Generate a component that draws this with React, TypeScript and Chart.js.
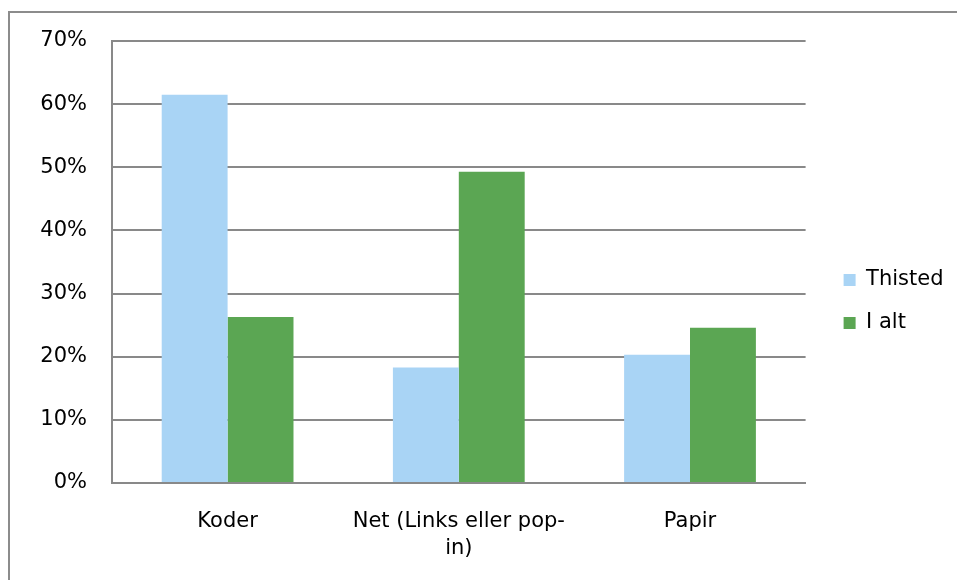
import React, { useEffect, useRef } from "react";
import { Chart, registerables } from "chart.js";

Chart.register(...registerables);

const categories: (string | string[])[] = ["Koder", ["Net (Links eller pop-", "in)"], "Papir"];
const seriesNames = ["Thisted", "I alt"];
const thistedValues = [61.5, 18.3, 20.3];
const iAltValues = [26.3, 49.3, 24.6];
const yTicks = [0, 10, 20, 30, 40, 50, 60, 70];

const BLUE = "#a9d4f5";
const GREEN = "#5ba653";
const GRID = "#898989";
const FONT = { family: "'DejaVu Sans', Verdana, sans-serif", size: 21, lineHeight: 1.24 };

const shiftLegend = {
  id: "shiftLegend",
  afterLayout(chart: any) {
    const lg = chart.legend;
    if (!lg) return;
    lg.left += 16;
    lg.right += 16;
    lg.top -= 9;
    lg.bottom -= 9;
  },
};

export default function App() {
  const ref = useRef<HTMLCanvasElement | null>(null);
  useEffect(() => {
    if (!ref.current) return;
    const chart = new Chart(ref.current, {
      type: "bar",
      data: {
        labels: categories,
        datasets: [
          { label: seriesNames[0], data: thistedValues, backgroundColor: BLUE, borderWidth: 0 },
          { label: seriesNames[1], data: iAltValues, backgroundColor: GREEN, borderWidth: 0 },
        ],
      },
      options: {
        animation: false,
        responsive: true,
        maintainAspectRatio: false,
        layout: { padding: { top: 41, right: 19.5, bottom: 0, left: 0 } },
        datasets: { bar: { categoryPercentage: 0.57, barPercentage: 1 } },
        plugins: {
          tooltip: { enabled: false },
          legend: {
            position: "right",
            labels: {
              boxWidth: 12,
              boxHeight: 12,
              padding: 22,
              color: "#000",
              font: FONT,
            },
          },
        },
        scales: {
          x: {
            grid: { display: false, drawTicks: false },
            border: { display: true, color: GRID, width: 2 },
            ticks: { color: "#000", font: FONT, padding: 26, maxRotation: 0, autoSkip: false },
            afterFit(scale: any) {
              scale.height = 97;
            },
          },
          y: {
            min: 0,
            max: 70,
            afterBuildTicks(scale: any) {
              scale.ticks = yTicks.map((v) => ({ value: v }));
            },
            grid: { color: GRID, lineWidth: 2, drawTicks: false },
            border: { display: true, color: GRID, width: 2 },
            ticks: {
              color: "#000",
              font: FONT,
              padding: 25,
              callback: (v: any) => v + "%",
            },
            afterFit(scale: any) {
              scale.width = 112;
            },
          },
        },
      },
      plugins: [shiftLegend],
    });
    return () => chart.destroy();
  }, []);

  return (
    <div style={{ position: "fixed", left: 0, top: 0, width: 957, height: 580, overflow: "hidden", background: "#fff" }}>
      <div
        style={{
          position: "absolute",
          left: 8,
          top: 11,
          width: 1200,
          height: 1200,
          borderLeft: "2px solid #8c8c8c",
          borderTop: "2px solid #8c8c8c",
          boxSizing: "border-box",
        }}
      />
      <div style={{ position: "absolute", left: 0, top: 0, width: 957, height: 580 }}>
        <canvas ref={ref} />
      </div>
    </div>
  );
}
